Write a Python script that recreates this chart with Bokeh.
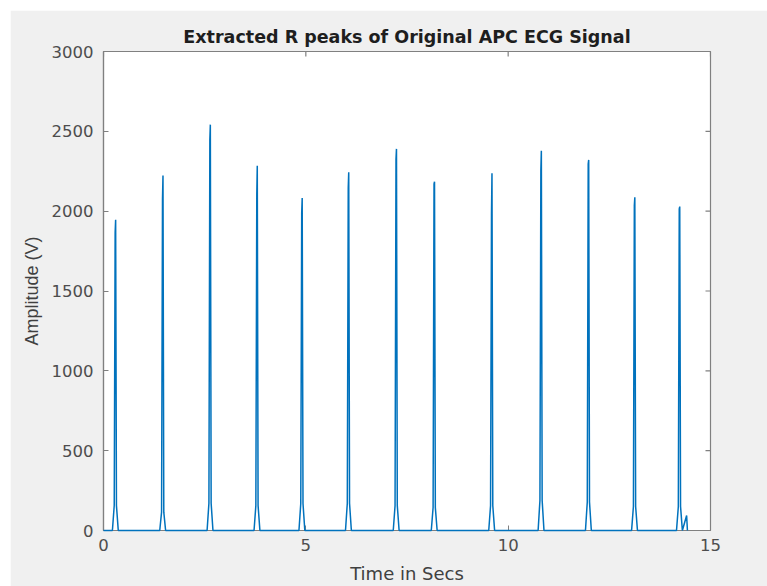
import math
from bokeh.plotting import figure
from bokeh.models import Range1d, ColumnDataSource, Spacer, FixedTicker
from bokeh.layouts import column, row
from bokeh.embed import file_html
from bokeh.resources import INLINE

# ---- data ----
peak_times = [0.30, 1.47, 2.64, 3.80, 4.91, 6.06, 7.24, 8.18, 9.60, 10.82, 11.99, 13.13, 14.24]
peak_amps = [1946, 2223, 2542, 2285, 2083, 2244, 2390, 2185, 2237, 2379, 2321, 2087, 2029]
pre_amps = [1868, 2077, 2446, 2102, 1987, 2146, 2327, 2170, 1987, 2258, 2296, 2035, 2014]
base_amps = [156, 115, 171, 156, 169, 171, 156, 144, 156, 188, 178, 150, 150]
beat_offsets = [-0.08, -0.035, -0.012, 0.0, 0.02, 0.065]
tail_times = [14.41, 14.43]
tail_amps = [94, 0]

x_ticks = [0, 5, 10, 15]
y_ticks = [0, 500, 1000, 1500, 2000, 2500, 3000]
x_max = 15
y_max = 3000

# ---- assemble the polyline ----
t = [0.0]
v = [0.0]
for pt, pk, pr, bs in zip(peak_times, peak_amps, pre_amps, base_amps):
    vals = [0, bs, pr, pk, bs, 0]
    for o, val in zip(beat_offsets, vals):
        t.append(pt + o)
        v.append(val)
t.extend(tail_times)
v.extend(tail_amps)

src = ColumnDataSource(data=dict(t=t, v=v))

AX = "#808080"
TICK_TXT = "#4d4d4d"

p = figure(width=757, height=576, output_backend="svg", toolbar_location=None,
           x_range=Range1d(0, x_max), y_range=Range1d(0, y_max),
           min_border_left=93, min_border_right=57, min_border_top=41, min_border_bottom=56,
           title="Extracted R peaks of Original APC ECG Signal")
p.background_fill_color = "white"
p.border_fill_color = "#f0f0f0"
p.outline_line_color = AX
p.outline_line_width = 1.2
p.grid.visible = False

p.title.text_font = "DejaVu Sans"
p.title.text_font_size = "17.5px"
p.title.text_font_style = "bold"
p.title.text_color = "#1e1e1e"
p.title.align = "center"
p.title.standoff = 10

r = p.line("t", "v", source=src, line_color="#0072BD", line_width=1.5)
r.level = "overlay"

# inward ticks on the top and right edges of the box (clipped to the frame)
p.scatter(x=x_ticks, y=[y_max] * len(x_ticks), marker="dash", angle=math.pi / 2,
          size=10, line_color=AX, line_width=1.2)
p.scatter(x=[x_max] * len(y_ticks), y=y_ticks, marker="dash",
          size=10, line_color=AX, line_width=1.2)

def style_axis(ax, ticks):
    ax.ticker = FixedTicker(ticks=ticks)
    ax.axis_line_color = AX
    ax.axis_line_width = 1.2
    ax.major_tick_line_color = AX
    ax.major_tick_in = 5
    ax.major_tick_out = 0
    ax.minor_tick_line_color = None
    ax.major_label_text_font = "DejaVu Sans"
    ax.major_label_text_font_size = "16.5px"
    ax.major_label_text_color = TICK_TXT

style_axis(p.xaxis[0], x_ticks)
style_axis(p.yaxis[0], y_ticks)
p.xaxis[0].major_label_standoff = 8
p.yaxis[0].major_label_standoff = 10

p.xaxis[0].axis_label = "Time in Secs"
p.xaxis[0].axis_label_text_font = "DejaVu Sans"
p.xaxis[0].axis_label_text_font_size = "18px"
p.xaxis[0].axis_label_text_font_style = "normal"
p.xaxis[0].axis_label_text_color = "#404040"
p.xaxis[0].axis_label_standoff = 9

p.yaxis[0].axis_label = "Amplitude (V)"
p.yaxis[0].axis_label_text_font = "Liberation Sans"
p.yaxis[0].axis_label_text_font_size = "18px"
p.yaxis[0].axis_label_text_font_style = "normal"
p.yaxis[0].axis_label_text_color = "#404040"
p.yaxis[0].axis_label_standoff = 7

layout = column(Spacer(height=10), row(Spacer(width=10), p), spacing=0)

open("out.html", "w").write(file_html(layout, INLINE))
